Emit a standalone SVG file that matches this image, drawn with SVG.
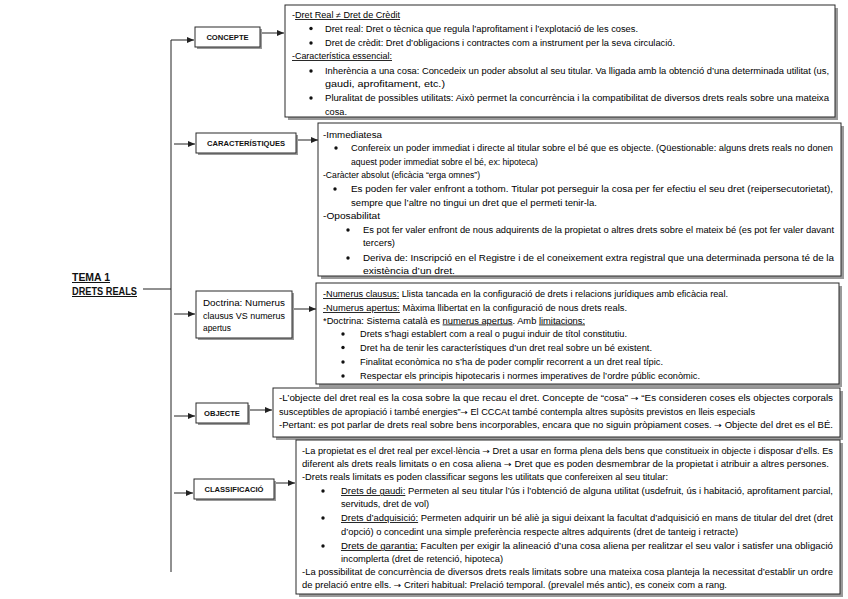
<svg xmlns="http://www.w3.org/2000/svg" width="848" height="599" viewBox="0 0 848 599">
<defs>
<style>
.t{font-family:"Liberation Sans",Arial,sans-serif;font-size:8.4px;fill:#000}
.nb{font-family:"Liberation Sans",Arial,sans-serif;font-size:7.6px;font-weight:bold;fill:#111;text-anchor:middle}
.nd{font-family:"Liberation Sans",Arial,sans-serif;font-size:8.4px;fill:#000}
.tema{font-family:"Liberation Sans",Arial,sans-serif;font-size:10px;font-weight:bold;fill:#111;text-decoration:underline}
.u{text-decoration:underline}
.aw{font-family:"DejaVu Sans",sans-serif;font-size:8px}
.box{fill:#fff;stroke:#2a2a2a;stroke-width:1}
.sh{fill:#9a9a9a}
.ln{stroke:#222;stroke-width:1;fill:none}
.ar{stroke:#222;stroke-width:1;fill:none;marker-end:url(#ah)}
.bl{fill:#111}
</style>
<marker id="ah" markerUnits="userSpaceOnUse" markerWidth="8" markerHeight="8" refX="7" refY="4" orient="auto">
<path d="M0,1 L7,4 L0,7 Z" fill="#222"/>
</marker>
</defs>
<rect width="848" height="599" fill="#fff"/>

<g id="tema">
<text class="tema" x="72" y="281" textLength="38" lengthAdjust="spacingAndGlyphs">TEMA 1</text>
<text class="tema" x="72" y="295" textLength="65" lengthAdjust="spacingAndGlyphs">DRETS REALS</text>
</g>

<g id="connectors">
<line class="ln" x1="143" y1="289" x2="171" y2="289"/>
<line class="ln" x1="171" y1="40" x2="171" y2="572"/>
<line class="ar" x1="171" y1="40" x2="194" y2="40"/>
<line class="ar" x1="174" y1="144" x2="195" y2="144"/>
<line class="ar" x1="174" y1="314" x2="195" y2="314"/>
<line class="ar" x1="174" y1="416" x2="195" y2="416"/>
<line class="ar" x1="174" y1="493" x2="193" y2="493"/>
<line class="ar" x1="262" y1="33" x2="284" y2="33"/>
<line class="ar" x1="297" y1="140" x2="318" y2="140"/>
<line class="ar" x1="294" y1="309" x2="316" y2="309"/>
<line class="ar" x1="249" y1="410" x2="272" y2="410"/>
<line class="ar" x1="275" y1="483" x2="295" y2="483"/>
</g>

<g id="n-concepte">
<rect class="sh" x="197" y="29" width="65" height="20"/>
<rect class="box" x="195" y="27" width="65" height="20"/>
<text class="nb" x="227.5" y="40.3">CONCEPTE</text>
</g>
<g id="n-caracteristiques">
<rect class="sh" x="198" y="135" width="100" height="20"/>
<rect class="box" x="196" y="133" width="100" height="20"/>
<text class="nb" x="246" y="146.3">CARACTERÍSTIQUES</text>
</g>
<g id="n-doctrina">
<rect class="sh" x="198" y="293" width="96" height="47"/>
<rect class="box" x="196" y="291" width="96" height="47"/>
<text class="nd" x="203" y="306" textLength="82" lengthAdjust="spacingAndGlyphs">Doctrina:  Numerus</text>
<text class="nd" x="203" y="318.5" textLength="82" lengthAdjust="spacingAndGlyphs">clausus VS numerus</text>
<text class="nd" x="203" y="331">apertus</text>
</g>
<g id="n-objecte">
<rect class="sh" x="198" y="405" width="52" height="20"/>
<rect class="box" x="196" y="403" width="52" height="20"/>
<text class="nb" x="222" y="416.3">OBJECTE</text>
</g>
<g id="n-classificacio">
<rect class="sh" x="196" y="481" width="80" height="20"/>
<rect class="box" x="194" y="479" width="80" height="20"/>
<text class="nb" x="234" y="492.3">CLASSIFICACIÓ</text>
</g>

<g id="d-concepte">
<rect class="sh" x="288" y="8" width="550" height="112"/>
<rect class="box" x="285" y="5" width="550" height="112"/>
<text class="t" x="292" y="18" textLength="108" lengthAdjust="spacingAndGlyphs">-<tspan class="u">Dret Real ≠ Dret de Crèdit</tspan></text>
<circle class="bl" cx="311" cy="28.5" r="1.7"/>
<text class="t" x="325" y="31.5" textLength="313" lengthAdjust="spacingAndGlyphs">Dret real: Dret o tècnica que regula l’aprofitament i l’explotació de les coses.</text>
<circle class="bl" cx="311" cy="43" r="1.7"/>
<text class="t" x="325" y="46" textLength="350" lengthAdjust="spacingAndGlyphs">Dret de crèdit: Dret d’obligacions i contractes com a instrument per la seva circulació.</text>
<text class="t" x="292" y="59" textLength="100" lengthAdjust="spacingAndGlyphs"><tspan class="u">-Característica essencial:</tspan></text>
<circle class="bl" cx="311" cy="71" r="1.7"/>
<text class="t" x="325" y="74" textLength="504" lengthAdjust="spacingAndGlyphs">Inherència a una cosa: Concedeix un poder absolut al seu titular. Va lligada amb la obtenció d’una determinada utilitat (us,</text>
<text class="t" x="325" y="87" textLength="120" lengthAdjust="spacingAndGlyphs">gaudi, aprofitament, etc.)</text>
<circle class="bl" cx="311" cy="98" r="1.7"/>
<text class="t" x="325" y="101" textLength="504" lengthAdjust="spacingAndGlyphs">Pluralitat de possibles utilitats: Això permet la concurrència i la compatibilitat de diversos drets reals sobre una mateixa</text>
<text class="t" x="325" y="114.5" textLength="22" lengthAdjust="spacingAndGlyphs">cosa.</text>
</g>

<g id="d-caracteristiques">
<rect class="sh" x="321" y="126" width="523" height="153"/>
<rect class="box" x="318" y="123" width="523" height="153"/>
<text class="t" x="323" y="138" textLength="59" lengthAdjust="spacingAndGlyphs">-Immediatesa</text>
<circle class="bl" cx="336" cy="148" r="1.7"/>
<text class="t" x="351" y="151" textLength="482" lengthAdjust="spacingAndGlyphs">Confereix un poder immediat i directe al titular sobre el bé que es objecte. (Qüestionable: alguns drets reals no donen</text>
<text class="t" x="351" y="165" textLength="187" lengthAdjust="spacingAndGlyphs">aquest poder immediat sobre el bé, ex: hipoteca)</text>
<text class="t" x="323" y="178" textLength="157" lengthAdjust="spacingAndGlyphs">-Caràcter absolut (eficàcia “erga omnes”)</text>
<circle class="bl" cx="335" cy="189" r="1.7"/>
<text class="t" x="351" y="192" textLength="482" lengthAdjust="spacingAndGlyphs">Es poden fer valer enfront a tothom. Titular pot perseguir la cosa per fer efectiu el seu dret (reipersecutorietat),</text>
<text class="t" x="351" y="206" textLength="246" lengthAdjust="spacingAndGlyphs">sempre que l’altre no tingui un dret que el permeti tenir-la.</text>
<text class="t" x="323" y="219" textLength="57" lengthAdjust="spacingAndGlyphs">-Oposabilitat</text>
<circle class="bl" cx="348" cy="230" r="1.7"/>
<text class="t" x="363" y="233" textLength="471" lengthAdjust="spacingAndGlyphs">Es pot fer valer enfront de nous adquirents de la propietat o altres drets sobre el mateix bé (es pot fer valer davant</text>
<text class="t" x="363" y="246" textLength="32" lengthAdjust="spacingAndGlyphs">tercers)</text>
<circle class="bl" cx="348" cy="258" r="1.7"/>
<text class="t" x="363" y="261" textLength="471" lengthAdjust="spacingAndGlyphs">Deriva de: Inscripció en el Registre i de el coneixement extra registral que una determinada persona té de la</text>
<text class="t" x="363" y="274" textLength="92" lengthAdjust="spacingAndGlyphs">existència d’un dret.</text>
</g>

<g id="d-doctrina">
<rect class="sh" x="319" y="286" width="523" height="101"/>
<rect class="box" x="316" y="283" width="523" height="101"/>
<text class="t" x="323" y="297" textLength="405" lengthAdjust="spacingAndGlyphs"><tspan class="u">-Numerus clausus:</tspan> Llista tancada en la configuració de drets i relacions jurídiques amb eficàcia real.</text>
<text class="t" x="323" y="311" textLength="304" lengthAdjust="spacingAndGlyphs"><tspan class="u">-Numerus apertus:</tspan> Màxima llibertat en la configuració de nous drets reals.</text>
<text class="t" x="323" y="323.5" textLength="262" lengthAdjust="spacingAndGlyphs">*Doctrina: Sistema català es <tspan class="u">numerus apertus</tspan>. Amb <tspan class="u">limitacions:</tspan></text>
<circle class="bl" cx="343" cy="334" r="1.7"/>
<text class="t" x="360" y="337" textLength="267" lengthAdjust="spacingAndGlyphs">Drets s’hagi establert com a real o pugui induir de títol constitutiu.</text>
<circle class="bl" cx="343" cy="347.5" r="1.7"/>
<text class="t" x="360" y="350.5" textLength="292" lengthAdjust="spacingAndGlyphs">Dret ha de tenir les característiques d’un dret real sobre un bé existent.</text>
<circle class="bl" cx="343" cy="362" r="1.7"/>
<text class="t" x="360" y="365" textLength="303" lengthAdjust="spacingAndGlyphs">Finalitat econòmica no s’ha de poder complir recorrent a un dret real típic.</text>
<circle class="bl" cx="343" cy="376" r="1.7"/>
<text class="t" x="360" y="379" textLength="340" lengthAdjust="spacingAndGlyphs">Respectar els principis hipotecaris i normes imperatives de l’ordre públic econòmic.</text>
</g>

<g id="d-objecte">
<rect class="sh" x="276" y="391" width="567" height="49"/>
<rect class="box" x="273" y="388" width="567" height="49"/>
<text class="t" x="279" y="401" textLength="554" lengthAdjust="spacingAndGlyphs">-L’objecte del dret real es la cosa sobre la que recau el dret. Concepte de “cosa” <tspan class="aw">→</tspan> “Es consideren coses els objectes corporals</text>
<text class="t" x="279" y="415" textLength="476" lengthAdjust="spacingAndGlyphs">susceptibles de apropiació i també energies”<tspan class="aw">→</tspan> El CCCAt també contempla altres supòsits previstos en lleis especials</text>
<text class="t" x="279" y="428" textLength="554" lengthAdjust="spacingAndGlyphs">-Pertant: es pot parlar de drets real sobre bens incorporables, encara que no siguin pròpiament coses. <tspan class="aw">→</tspan> Objecte del dret es el BÉ.</text>
</g>

<g id="d-classificacio">
<rect class="sh" x="299" y="443" width="544" height="154"/>
<rect class="box" x="296" y="440" width="544" height="154"/>
<text class="t" x="302" y="454" textLength="531" lengthAdjust="spacingAndGlyphs">-La propietat es el dret real per excel·lència <tspan class="aw">→</tspan> Dret a usar en forma plena dels bens que constitueix in objecte i disposar d’ells.  Es</text>
<text class="t" x="302" y="467" textLength="527" lengthAdjust="spacingAndGlyphs">diferent als drets reals limitats o en cosa aliena <tspan class="aw">→</tspan> Dret que es poden desmembrar de la propietat i atribuir a altres persones.</text>
<text class="t" x="302" y="480" textLength="366" lengthAdjust="spacingAndGlyphs">-Drets reals limitats es poden classificar segons les utilitats que confereixen al seu titular:</text>
<circle class="bl" cx="323" cy="491" r="1.7"/>
<text class="t" x="341" y="494" textLength="492" lengthAdjust="spacingAndGlyphs"><tspan class="u">Drets de gaudi:</tspan> Permeten al seu titular l’ús i l’obtenció de alguna utilitat (usdefruit, ús i habitació, aprofitament parcial,</text>
<text class="t" x="341" y="507" textLength="88" lengthAdjust="spacingAndGlyphs">servituds, dret de vol)</text>
<circle class="bl" cx="323" cy="518" r="1.7"/>
<text class="t" x="341" y="521" textLength="492" lengthAdjust="spacingAndGlyphs"><tspan class="u">Drets d’adquisició:</tspan> Permeten adquirir un bé aliè ja sigui deixant la facultat d’adquisició en mans de titular del dret (dret</text>
<text class="t" x="341" y="535" textLength="397" lengthAdjust="spacingAndGlyphs">d’opció) o concedint una simple preferència respecte altres adquirents (dret de tanteig i retracte)</text>
<circle class="bl" cx="323" cy="546" r="1.7"/>
<text class="t" x="341" y="549" textLength="492" lengthAdjust="spacingAndGlyphs"><tspan class="u">Drets de garantia:</tspan> Faculten per exigir la alineació d’una cosa aliena per realitzar el seu valor i satisfer una obligació</text>
<text class="t" x="341" y="562" textLength="162" lengthAdjust="spacingAndGlyphs">incomplerta (dret de retenció, hipoteca)</text>
<text class="t" x="302" y="575" textLength="531" lengthAdjust="spacingAndGlyphs">-La possibilitat de concurrència de diversos drets reals limitats sobre una mateixa cosa planteja la necessitat d’establir un ordre</text>
<text class="t" x="302" y="588" textLength="425" lengthAdjust="spacingAndGlyphs">de prelació entre ells. <tspan class="aw">→</tspan> Criteri habitual: Prelació temporal. (prevalel més antic), es coneix com a rang.</text>
</g>
</svg>
